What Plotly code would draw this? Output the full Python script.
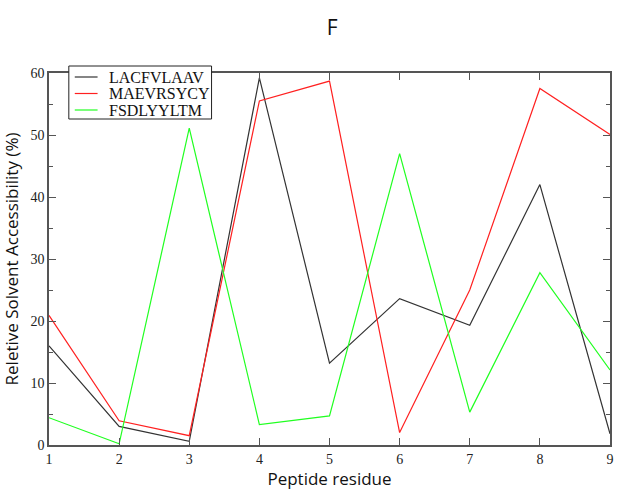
import plotly.graph_objects as go

residues = [1, 2, 3, 4, 5, 6, 7, 8, 9]
lacfvlaav = [16, 3, 0.6, 59.2, 13.2, 23.6, 19.3, 42, 1.8]
maevrsycy = [20.9, 3.9, 1.5, 55.5, 58.7, 2.0, 25, 57.5, 50.1]
fsdlyyltm = [4.4, 0.2, 51.1, 3.3, 4.7, 47, 5.3, 27.8, 12.1]

names = ["LACFVLAAV", "MAEVRSYCY", "FSDLYYLTM"]
colors = ["#333333", "#ff2020", "#20ff20"]

W, H = 623, 497
ML, MR, MT, MB = 48, 9, 73, 52
PW, PH = W - ML - MR, H - MT - MB


def px_x(p):
    return (p - ML) / PW


def px_y(p):
    return (H - MB - p) / PH


fig = go.Figure()
for name, vals, c in zip(names, [lacfvlaav, maevrsycy, fsdlyyltm], colors):
    fig.add_trace(go.Scatter(x=residues, y=vals, mode="lines", name=name,
                             line=dict(color=c, width=1.2), showlegend=False))

# legend drawn as a boxed key
shapes = [dict(type="rect", xref="paper", yref="paper",
               x0=px_x(68), x1=px_x(212), y0=px_y(119), y1=px_y(66),
               line=dict(color="#222222", width=1), fillcolor="white", layer="above")]
annotations = []
for i, (name, c) in enumerate(zip(names, colors)):
    ry = 77 + i * 16.5
    shapes.append(dict(type="line", xref="paper", yref="paper",
                       x0=px_x(74), x1=px_x(97), y0=px_y(ry), y1=px_y(ry),
                       line=dict(color=c, width=1.2), layer="above"))
    annotations.append(dict(text=name, xref="paper", yref="paper",
                            x=px_x(107), y=px_y(ry), xanchor="left", yanchor="middle",
                            showarrow=False,
                            font=dict(family="Liberation Serif", size=16, color="#111111")))

axis_common = dict(
    showline=True, linecolor="#555555", linewidth=1.5, mirror="ticks",
    ticks="inside", tickcolor="#555555", ticklen=7, tickwidth=1.2,
    showgrid=False, zeroline=False,
    tickfont=dict(family="Liberation Serif", size=14, color="#222222"),
)

fig.update_layout(
    width=W, height=H,
    margin=dict(l=ML, r=MR, t=MT, b=MB),
    paper_bgcolor="white", plot_bgcolor="white",
    title=dict(text="F", x=0.533, xanchor="center", y=0.945, yanchor="middle",
               font=dict(family="Open Sans", size=21, color="#111111")),
    showlegend=False,
    shapes=shapes,
    annotations=annotations,
)
fig.update_xaxes(range=[1, 9], dtick=1, **axis_common,
                 title=dict(text="Peptide residue", standoff=4,
                            font=dict(family="Open Sans", size=17, color="#111111")))
fig.update_yaxes(range=[0, 60], dtick=10, **axis_common,
                 minor=dict(ticks="inside", dtick=5, ticklen=4, tickcolor="#555555", tickwidth=1.2),
                 title=dict(text="Reletive Solvent Accessibility (%)", standoff=10,
                            font=dict(family="Open Sans", size=17, color="#111111")))

fig.write_html("out.html")
